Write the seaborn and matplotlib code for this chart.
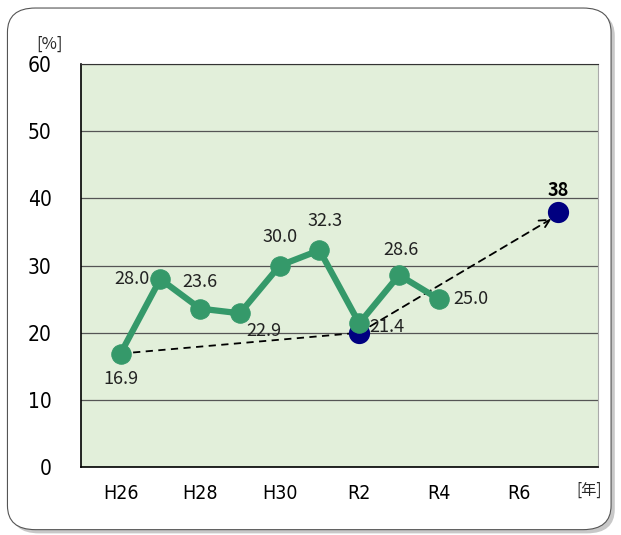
import matplotlib
matplotlib.use("Agg")
import matplotlib.pyplot as plt
from matplotlib.patches import FancyBboxPatch
import seaborn as sns
import pandas as pd

# data
years = ["H26", "H27", "H28", "H29", "H30", "R1", "R2", "R3", "R4", "R5", "R6", "R7"]
rates = [16.9, 28.0, 23.6, 22.9, 30.0, 32.3, 21.4, 28.6, 25.0]
target_years = ["R2", "R7"]
target_rates = [20, 38]
tick_labels = ["H26", "", "H28", "", "H30", "", "R2", "", "R4", "", "R6", ""]

df = pd.DataFrame({"x": range(len(rates)), "rate": rates, "year": years[:len(rates)]})
tgt = pd.DataFrame({"x": [years.index(y) for y in target_years], "rate": target_rates})

sns.set_style("white")
plt.rcParams["font.family"] = ["Noto Sans CJK JP", "DejaVu Sans"]

fig = plt.figure(figsize=(6.21, 5.35), dpi=100)

# rounded frame with a soft shadow
shadow = FancyBboxPatch((0.018, 0.003), 0.972, 0.975, boxstyle="round,pad=0,rounding_size=0.045",
                        transform=fig.transFigure, facecolor="#c8c8c8", edgecolor="none", zorder=0)
frame = FancyBboxPatch((0.012, 0.010), 0.972, 0.975, boxstyle="round,pad=0,rounding_size=0.045",
                       transform=fig.transFigure, facecolor="white", edgecolor="#555555",
                       linewidth=0.8, zorder=1)
fig.patches.extend([shadow, frame])

ax = fig.add_axes([0.130, 0.127, 0.833, 0.753])
ax.set_zorder(2)
ax.set_facecolor("#e2efda")

green = "#35996a"
navy = "#000080"

# dashed trend: H26 -> R2, then arrow R2 -> R7
ax.plot([0, tgt["x"][0]], [rates[0], target_rates[0]], ls=(0, (4, 3)), color="black", lw=1.3, zorder=3)
ax.annotate("", xy=(tgt["x"][1] - 0.05, target_rates[1] - 0.6), xytext=(tgt["x"][0], target_rates[0]),
            arrowprops=dict(arrowstyle="->", ls=(0, (4, 3)), color="black", lw=1.3,
                            mutation_scale=18, shrinkA=0, shrinkB=4), zorder=3)

sns.scatterplot(data=tgt, x="x", y="rate", color=navy, s=200, edgecolor=navy, ax=ax, zorder=4)
sns.lineplot(data=df, x="x", y="rate", color=green, lw=4.5, marker="o", markersize=14,
             markeredgecolor=green, ax=ax, zorder=5)

# value labels
offsets = [(0, -3.8), (-0.72, 0), (0, 3.9), (0.6, -2.6), (0, 4.3), (0.15, 4.3),
           (0.7, -0.6), (0.05, 3.7), (0.8, 0)]
for i, (dx, dy) in enumerate(offsets):
    ax.text(i + dx, rates[i] + dy, f"{rates[i]:.1f}", ha="center", va="center", fontsize=13,
            fontstretch="condensed", color="#222222", zorder=6)
ax.text(tgt["x"][1], target_rates[1] + 3.2, "38", ha="center", va="center", fontsize=13,
        fontweight="bold", color="black", zorder=6)

ax.set_xlim(-1, 12)
ax.set_ylim(0, 60)
ax.set_xticks(range(len(years)))
ax.set_xticklabels(tick_labels)
ax.set_yticks(range(0, 61, 10))
ax.yaxis.grid(True, color="#555555", lw=0.9)
ax.set_axisbelow(True)
ax.tick_params(axis="x", direction="in", length=4, width=0.8, pad=12, labelsize=14)
ax.tick_params(axis="y", length=0, pad=21, labelsize=15)
for lab in ax.get_xticklabels() + ax.get_yticklabels():
    lab.set_family(["DejaVu Sans"])
    lab.set_fontstretch("condensed")
    lab.set_color("black")
ax.set_xlabel("")
ax.set_ylabel("")
for side in ["left", "bottom"]:
    ax.spines[side].set_color("black")
    ax.spines[side].set_linewidth(1.2)
ax.spines["top"].set_color("#333333")
ax.spines["top"].set_linewidth(0.8)
ax.spines["right"].set_color("#aaaaaa")
ax.spines["right"].set_linewidth(0.8)

fig.text(0.080, 0.918, "[%]", ha="center", va="center", fontsize=12)
fig.text(0.948, 0.083, "[年]", ha="center", va="center", fontsize=11)

fig.savefig("out.png", dpi=100)
